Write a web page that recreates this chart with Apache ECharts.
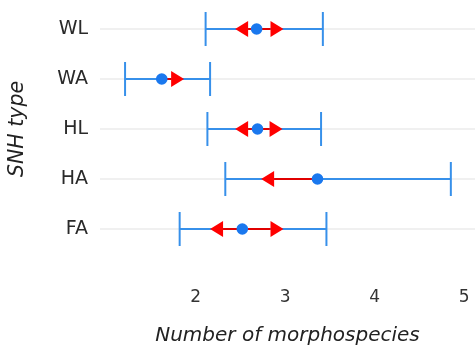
<!DOCTYPE html>
<html>
<head>
<meta charset="utf-8">
<script src="https://cdn.jsdelivr.net/npm/echarts@6/dist/echarts.min.js"></script>
<style>html,body{margin:0;padding:0;background:#fff}#c{width:475px;height:351px}</style>
</head>
<body>
<div id="c"></div>
<script>
var categories = ['WL', 'WA', 'HL', 'HA', 'FA'];
var lower = [2.11, 1.21, 2.13, 2.33, 1.82];
var upper = [3.42, 2.16, 3.40, 4.85, 3.46];
var means = [2.68, 1.62, 2.69, 3.36, 2.52];
var arrowLeft = [2.44, null, 2.44, 2.73, 2.16];
var arrowRight = [2.98, 1.87, 2.97, null, 2.98];
var xTicks = [2, 3, 4, 5];

var data = categories.map(function (c, i) {
  return [i, lower[i], upper[i], means[i], arrowLeft[i], arrowRight[i]];
});

var BLUE = '#3790ea', DOT = '#1a78ee', RED = '#ff0000';
var FONT = 'DejaVu Sans';

function renderItem(params, api) {
  var i = api.value(0);
  var lo = api.coord([api.value(1), i]);
  var hi = api.coord([api.value(2), i]);
  var m = api.coord([api.value(3), i]);
  var y = lo[1];
  var cap = 17;
  var children = [
    {type: 'line', shape: {x1: lo[0], y1: y, x2: hi[0], y2: y}, style: {stroke: BLUE, lineWidth: 2}},
    {type: 'line', shape: {x1: lo[0], y1: y - cap, x2: lo[0], y2: y + cap}, style: {stroke: BLUE, lineWidth: 2}},
    {type: 'line', shape: {x1: hi[0], y1: y - cap, x2: hi[0], y2: y + cap}, style: {stroke: BLUE, lineWidth: 2}}
  ];
  var L = 13, H = 8;
  [4, 5].forEach(function (k) {
    var v = data[i][k];
    if (v == null) return;
    var t = api.coord([v, i]);
    var dir = t[0] < m[0] ? 1 : -1;
    children.push({type: 'line', shape: {x1: m[0], y1: y, x2: t[0] + dir * L, y2: y}, style: {stroke: '#e00000', lineWidth: 2}});
    children.push({type: 'polygon', shape: {points: [[t[0], y], [t[0] + dir * L, y - H], [t[0] + dir * L, y + H]]}, style: {fill: RED}});
  });
  children.push({type: 'circle', shape: {cx: m[0], cy: y, r: 5.8}, style: {fill: DOT}});
  return {type: 'group', children: children};
}

var chart = echarts.init(document.getElementById('c'), null, {renderer: 'canvas'});
chart.setOption({
  animation: false,
  grid: {left: 100, right: 0, top: 29, height: 201},
  xAxis: {
    type: 'value', min: 0.93, max: 5.12,
    axisLine: {show: false}, axisTick: {show: false}, splitLine: {show: false},
    axisLabel: {customValues: xTicks, margin: 60, fontSize: 17, color: '#333', fontFamily: FONT},
    name: 'Number of morphospecies', nameLocation: 'middle', nameGap: 97,
    nameTextStyle: {fontStyle: 'italic', fontSize: 20, color: '#222', fontFamily: FONT}
  },
  yAxis: {
    type: 'category', data: categories, inverse: true, boundaryGap: false,
    axisLine: {show: false}, axisTick: {show: false},
    splitLine: {show: true, lineStyle: {color: '#ebebeb', width: 1.5}},
    axisLabel: {margin: 12, fontSize: 19, color: '#2a2a2a', fontFamily: FONT},
    name: 'SNH type', nameLocation: 'middle', nameGap: 72, nameRotate: 90,
    nameTextStyle: {fontStyle: 'italic', fontSize: 20.5, color: '#222', fontFamily: FONT}
  },
  series: [{type: 'custom', renderItem: renderItem, data: data, clip: false,
    encode: {x: [1, 2, 3], y: 0}}]
});
</script>
</body>
</html>
